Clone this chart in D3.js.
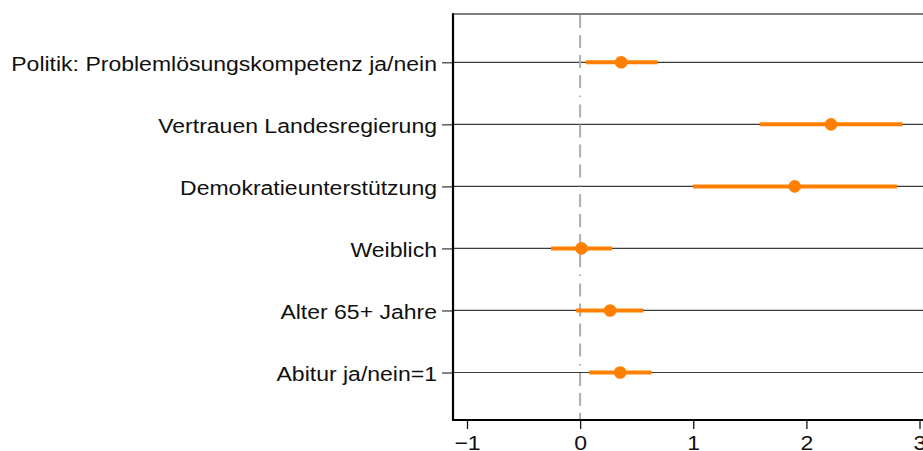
<!DOCTYPE html>
<html><head><meta charset="utf-8">
<script src="https://cdn.jsdelivr.net/npm/d3@7/dist/d3.min.js"></script>
<style>html,body{margin:0;padding:0;background:#fff;overflow:hidden}</style>
</head><body>
<svg id="c" width="923" height="451"></svg>
<script>
const categories = ["Politik: Problemlösungskompetenz ja/nein","Vertrauen Landesregierung","Demokratieunterstützung","Weiblich","Alter 65+ Jahre","Abitur ja/nein=1"];
const estimates = [0.363, 2.218, 1.897, 0.012, 0.265, 0.354];
const lower = [0.050, 1.587, 0.997, -0.257, -0.035, 0.080];
const upper = [0.684, 2.850, 2.800, 0.283, 0.560, 0.631];
const xTicks = [-1, 0, 1, 2, 3];

(function(){
const svg = d3.select("#c");
const font = "'Liberation Sans', Arial, Helvetica, sans-serif";
const fs = 21, sx = 1.096;
const pL = 453, pT = 14, pB = 420, pR = 935;
const x = d3.scaleLinear().domain([-1, 3]).range([467, 919.5]);
const y = d3.scalePoint().domain(categories).range([62.3, 372.5]);

// gridlines
svg.append("g").selectAll("line").data(categories).join("line")
  .attr("x1", pL).attr("x2", pR)
  .attr("y1", d => y(d)).attr("y2", d => y(d))
  .attr("stroke", "#3a3a3a").attr("stroke-width", 1.2);

// zero line
svg.append("line").attr("x1", x(0)).attr("x2", x(0)).attr("y1", pT + 1).attr("y2", pB)
  .attr("stroke", "#adadad").attr("stroke-width", 2)
  .attr("stroke-dasharray", "13,7,13,7,13,7,13,7.5,1.5,7.5");

// frame top
svg.append("line").attr("x1", pL).attr("x2", pR).attr("y1", pT).attr("y2", pT)
  .attr("stroke", "#555").attr("stroke-width", 1.6);

// axes
const yAxis = d3.axisLeft(y).tickSize(11).tickPadding(5);
const gy = svg.append("g").attr("transform", `translate(${pL},0)`).call(yAxis);
gy.select(".domain").remove();
gy.selectAll(".tick line").attr("stroke", "#333").attr("stroke-width", 1.2);
gy.selectAll(".tick text").attr("font-family", font).attr("font-size", fs).attr("fill", "#111")
  .attr("x", 0).attr("dy", "0.38em").attr("transform", `translate(-16,0) scale(${sx},1)`);

const xAxis = d3.axisBottom(x).tickValues(xTicks).tickSize(9).tickPadding(6)
  .tickFormat(d => d < 0 ? "\u2212" + Math.abs(d) : String(d));
const gx = svg.append("g").attr("transform", `translate(0,${pB})`).call(xAxis);
gx.select(".domain").remove();
gx.selectAll(".tick line").attr("stroke", "#111").attr("stroke-width", 1.3);
gx.selectAll(".tick text").attr("font-family", font).attr("font-size", fs).attr("fill", "#111")
  .attr("transform", `scale(${sx},1)`);

svg.append("line").attr("x1", pL).attr("x2", pL).attr("y1", pT - 0.8).attr("y2", pB + 1)
  .attr("stroke", "#000").attr("stroke-width", 2.2);
svg.append("line").attr("x1", pL - 1).attr("x2", pR).attr("y1", pB).attr("y2", pB)
  .attr("stroke", "#000").attr("stroke-width", 2.2);

// CIs
const rows = categories.map((c, i) => ({c, e: estimates[i], lo: lower[i], hi: upper[i]}));
svg.append("g").selectAll("line").data(rows).join("line")
  .attr("x1", d => x(d.lo)).attr("x2", d => x(d.hi))
  .attr("y1", d => y(d.c)).attr("y2", d => y(d.c))
  .attr("stroke", "#ff8000").attr("stroke-width", 4);
svg.append("g").selectAll("circle").data(rows).join("circle")
  .attr("cx", d => x(d.e)).attr("cy", d => y(d.c)).attr("r", 6.3)
  .attr("fill", "#ff8000");
})();
</script>
</body></html>
